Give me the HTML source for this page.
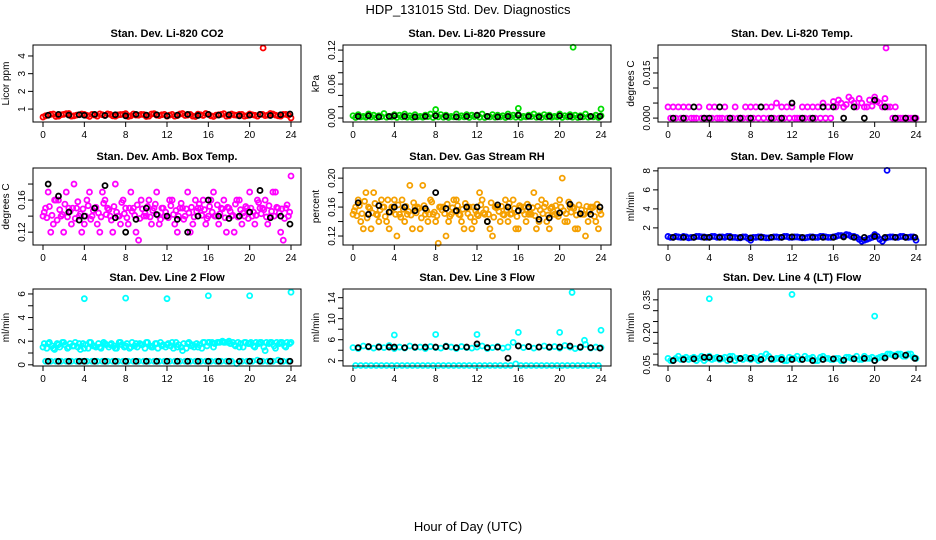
<!DOCTYPE html>
<html><head><meta charset="utf-8"><style>
body{margin:0;background:#fff}
svg{display:block;font-family:"Liberation Sans",sans-serif}
</style></head><body>
<svg id="c" width="936" height="540" viewBox="0 0 936 540">
<text x="468" y="14" text-anchor="middle" font-size="13">HDP_131015  Std. Dev. Diagnostics</text>
<text x="468" y="531" text-anchor="middle" font-size="13">Hour of Day (UTC)</text>
</svg>
<script>
const hoursA=[0,0.5,1,1.5,2,2.5,3,3.5,4,4.5,5,5.5,6,6.5,7,7.5,8,8.5,9,9.5,10,10.5,11,11.5,12,12.5,13,13.5,14,14.5,15,15.5,16,16.5,17,17.5,18,18.5,19,19.5,20,20.5,21,21.5,22,22.5,23,23.5,24];
const hoursB=[0.25,0.75,1.25,1.75,2.25,2.75,3.25,3.75,4.25,4.75,5.25,5.75,6.25,6.75,7.25,7.75,8.25,8.75,9.25,9.75,10.25,10.75,11.25,11.75,12.25,12.75,13.25,13.75,14.25,14.75,15.25,15.75,16.25,16.75,17.25,17.75,18.25,18.75,19.25,19.75,20.25,20.75,21.25,21.75,22.25,22.75,23.25,23.75];
const hoursC=[0.12,0.37,0.62,0.87,1.12,1.37,1.62,1.87,2.12,2.37,2.62,2.87,3.12,3.37,3.62,3.87,4.12,4.37,4.62,4.87,5.12,5.37,5.62,5.87,6.12,6.37,6.62,6.87,7.12,7.37,7.62,7.87,8.12,8.37,8.62,8.87,9.12,9.37,9.62,9.87,10.12,10.37,10.62,10.87,11.12,11.37,11.62,11.87,12.12,12.37,12.62,12.87,13.12,13.37,13.62,13.87,14.12,14.37,14.62,14.87,15.12,15.37,15.62,15.87,16.12,16.37,16.62,16.87,17.12,17.37,17.62,17.87,18.12,18.37,18.62,18.87,19.12,19.37,19.62,19.87,20.12,20.37,20.62,20.87,21.12,21.37,21.62,21.87,22.12,22.37,22.62,22.87,23.12,23.37,23.62,23.87];
const hoursK=[0.5,1.5,2.5,3.5,4,5,6,7,8,9,10,11,12,13,14,15,16,17,18,19,20,21,22,23,23.9];
// Panel 1 CO2
const co2A=[0.55,0.65,0.72,0.6,0.7,0.75,0.62,0.68,0.7,0.58,0.66,0.73,0.64,0.7,0.6,0.69,0.74,0.62,0.66,0.7,0.58,0.72,0.65,0.68,0.6,0.7,0.63,0.75,0.66,0.6,0.71,0.64,0.7,0.58,0.68,0.74,0.62,0.67,0.7,0.6,0.72,0.65,0.7,0.63,0.75,0.66,0.6,0.7,0.5];
const co2B=[0.62,0.7,0.58,0.68,0.74,0.6,0.66,0.72,0.64,0.7,0.6,0.68,0.73,0.62,0.67,0.7,0.58,0.72,0.65,0.69,0.6,0.74,0.63,0.7,0.66,0.6,0.72,0.64,0.7,0.58,0.68,0.75,0.62,0.66,0.7,0.6,0.72,0.65,0.7,0.63,0.68,0.6,0.7,0.66,0.72,0.62,0.7,0.65];
const co2K=[0.65,0.7,0.66,0.68,0.65,0.7,0.64,0.68,0.62,0.7,0.66,0.68,0.62,0.66,0.7,0.64,0.7,0.66,0.68,0.62,0.66,0.7,0.64,0.68,0.72];
const co2Oh=[21.3]; const co2Ov=[4.45];
// Panel 2 pressure
const prA=[0.004,0.006,0.003,0.007,0.005,0.004,0.008,0.003,0.006,0.005,0.007,0.004,0.006,0.003,0.005,0.007,0.004,0.006,0.005,0.003,0.007,0.004,0.006,0.005,0.004,0.007,0.003,0.006,0.005,0.004,0.007,0.005,0.006,0.003,0.005,0.007,0.004,0.006,0.005,0.003,0.007,0.004,0.006,0.005,0.004,0.007,0.003,0.005,0.004];
const prB=[0.001,0.002,0.0015,0.002,0.001,0.0025,0.0015,0.002,0.001,0.002,0.0015,0.001,0.002,0.0015,0.0025,0.001,0.002,0.0015,0.001,0.002,0.0015,0.002,0.001,0.0025,0.0015,0.001,0.002,0.0015,0.002,0.001,0.002,0.0015,0.001,0.002,0.0025,0.0015,0.001,0.002,0.0015,0.002,0.001,0.002,0.0015,0.001,0.002,0.0015,0.002,0.001];
const prK=[0.003,0.004,0.002,0.003,0.004,0.003,0.002,0.003,0.004,0.003,0.002,0.003,0.005,0.003,0.002,0.003,0.005,0.003,0.002,0.003,0.004,0.003,0.002,0.003,0.003];
const prOh=[8,16,21.3,24]; const prOv=[0.015,0.017,0.125,0.016];
// Panel 3 Li-820 temp
const tpA=[0.0037,0.0037,0.0037,0.0037,0.0037,0,0.0037,0,0.0037,0.0037,0,0.0037,0,0.0037,0,0.0037,0.0037,0.0037,0.0037,0.0037,0.0037,0.005,0.0037,0.0037,0.0037,0,0.0037,0.0037,0.0037,0.0037,0.005,0.0037,0.0055,0.006,0.0037,0.007,0.005,0.0065,0.0037,0.006,0.007,0.005,0.0065,0.0037,0.0037,0,0,0,0];
const tpB=[0,0,0,0,0,0,0,0,0,0,0,0,0,0,0,0,0,0,0,0,0,0,0,0,0,0,0,0,0,0,0,0,0.0037,0.005,0.0045,0.006,0.0037,0.005,0.0037,0.004,0.0055,0.0037,0.0037,0,0,0,0,0];
const tpK=[0,0,0.0037,0,0,0.0037,0,0,0,0.0037,0,0,0.005,0,0,0.0037,0.0037,0,0.0037,0,0.006,0.0037,0,0,0];
const tpOh=[21.1]; const tpOv=[0.0233];
// Panel 4 amb box temp
const abA=[0.14,0.17,0.13,0.16,0.12,0.15,0.18,0.14,0.13,0.17,0.15,0.12,0.16,0.14,0.18,0.13,0.15,0.17,0.12,0.16,0.14,0.13,0.17,0.15,0.14,0.16,0.12,0.15,0.17,0.13,0.15,0.16,0.14,0.17,0.13,0.16,0.15,0.12,0.16,0.14,0.17,0.13,0.15,0.16,0.14,0.17,0.12,0.15,0.19];
const abB=[0.15,0.12,0.16,0.14,0.17,0.13,0.15,0.12,0.16,0.14,0.13,0.17,0.15,0.12,0.14,0.16,0.13,0.15,0.11,0.14,0.16,0.15,0.13,0.14,0.16,0.13,0.15,0.14,0.12,0.16,0.15,0.13,0.16,0.14,0.15,0.12,0.14,0.16,0.13,0.15,0.14,0.16,0.15,0.13,0.17,0.15,0.11,0.14];
const abC=[0.145,0.138,0.152,0.141,0.16,0.135,0.148,0.142,0.155,0.139,0.146,0.15,0.137,0.158,0.143,0.149,0.14,0.153,0.136,0.147,0.151,0.144,0.139,0.156,0.142,0.148,0.135,0.152,0.145,0.14,0.157,0.143,0.138,0.15,0.146,0.141,0.154,0.137,0.149,0.144,0.152,0.139,0.147,0.155,0.141,0.136,0.15,0.145,0.138,0.153,0.142,0.147,0.14,0.156,0.136,0.149,0.144,0.151,0.139,0.146,0.155,0.141,0.148,0.137,0.152,0.145,0.14,0.154,0.143,0.149,0.138,0.151,0.146,0.141,0.155,0.139,0.148,0.144,0.152,0.137,0.15,0.145,0.141,0.157,0.143,0.148,0.139,0.153,0.146,0.14,0.151,0.144,0.149,0.137,0.154,0.145];
const abK=[0.18,0.165,0.145,0.135,0.14,0.15,0.178,0.138,0.12,0.136,0.15,0.142,0.14,0.136,0.12,0.14,0.16,0.14,0.137,0.14,0.145,0.172,0.138,0.14,0.13];
// Panel 5 gas stream RH
const rhA=[0.15,0.17,0.13,0.16,0.18,0.14,0.16,0.13,0.17,0.15,0.14,0.19,0.16,0.13,0.15,0.17,0.14,0.16,0.12,0.15,0.17,0.14,0.16,0.13,0.15,0.17,0.14,0.12,0.16,0.15,0.14,0.17,0.13,0.16,0.15,0.18,0.14,0.16,0.13,0.15,0.17,0.14,0.16,0.13,0.15,0.12,0.16,0.14,0.15];
const rhB=[0.16,0.14,0.18,0.13,0.15,0.17,0.14,0.16,0.12,0.17,0.15,0.13,0.16,0.19,0.14,0.15,0.11,0.16,0.14,0.17,0.15,0.13,0.16,0.14,0.18,0.15,0.13,0.16,0.14,0.17,0.15,0.13,0.16,0.14,0.15,0.13,0.17,0.14,0.16,0.15,0.2,0.14,0.16,0.13,0.15,0.14,0.16,0.13];
const rhC=[0.155,0.148,0.162,0.151,0.168,0.145,0.158,0.152,0.165,0.149,0.156,0.16,0.147,0.17,0.153,0.159,0.15,0.163,0.146,0.157,0.161,0.154,0.149,0.166,0.152,0.158,0.145,0.162,0.155,0.15,0.167,0.153,0.148,0.16,0.156,0.151,0.164,0.147,0.159,0.154,0.162,0.149,0.157,0.165,0.151,0.146,0.16,0.155,0.148,0.163,0.152,0.157,0.15,0.166,0.146,0.159,0.154,0.161,0.149,0.156,0.165,0.151,0.158,0.147,0.162,0.155,0.15,0.164,0.153,0.159,0.148,0.161,0.156,0.151,0.165,0.149,0.158,0.154,0.162,0.147,0.16,0.155,0.151,0.167,0.153,0.158,0.149,0.163,0.156,0.15,0.161,0.154,0.159,0.147,0.164,0.155];
const rhK=[0.166,0.15,0.162,0.153,0.16,0.16,0.155,0.158,0.18,0.158,0.155,0.16,0.16,0.14,0.163,0.16,0.155,0.16,0.143,0.145,0.152,0.164,0.151,0.15,0.16];
// Panel 6 sample flow
const sfA=[1.1,1.0,1.05,1.1,0.95,1.0,1.1,1.05,1.0,1.1,1.05,1.0,1.1,1.0,0.95,1.05,0.7,1.0,1.05,0.95,1.0,1.05,1.0,1.1,1.0,1.05,0.95,1.0,1.05,1.0,1.1,1.0,1.05,1.2,1.15,1.25,1.1,0.8,0.7,0.9,1.3,0.8,0.9,1.05,1.0,1.1,1.0,1.05,0.7];
const sfB=[1.0,1.1,1.0,1.05,1.0,1.1,1.05,1.0,1.1,1.0,1.05,1.1,1.0,0.95,1.05,0.9,1.0,1.05,1.0,0.95,1.05,1.0,1.1,1.0,1.05,1.0,0.95,1.05,1.0,1.1,1.05,1.0,1.1,1.2,1.3,1.1,1.0,0.6,0.8,1.0,1.1,0.6,1.0,1.05,1.0,1.1,1.0,1.05];
const sfK=[1.0,1.0,1.0,1.0,1.0,1.0,1.0,1.0,0.95,1.0,1.0,1.0,1.05,1.0,1.0,1.0,1.0,1.05,1.0,1.0,1.1,1.0,1.0,1.0,1.0];
const sfOh=[21.2]; const sfOv=[8.05];
// Panel 7 line 2 flow
const l2A=[1.5,1.8,1.4,1.7,1.9,1.5,1.6,1.8,1.4,1.9,1.6,1.5,1.8,1.7,1.4,1.9,1.6,1.5,1.8,1.7,1.9,1.5,1.8,1.6,1.7,1.9,1.5,1.2,1.8,1.7,1.5,1.9,1.9,1.5,1.9,1.9,2.0,1.7,1.5,1.9,1.8,1.5,1.9,1.2,1.9,1.4,1.9,1.5,1.9];
const l2B=[0.3,0.3,0.3,0.3,0.3,0.3,0.3,0.3,0.3,0.3,0.3,0.3,0.3,0.3,0.3,0.3,0.3,0.3,0.3,0.3,0.3,0.3,0.3,0.3,0.3,0.3,0.3,0.3,0.3,0.3,0.3,0.3,0.3,0.3,0.3,0.3,0.3,0.1,0.3,0.3,0.3,0.4,0.3,0.3,0.3,0.4,0.3,0.3];
const l2C=[1.8,1.4,1.9,1.6,1.3,1.8,1.5,1.9,1.7,1.4,1.8,1.6,1.9,1.5,1.3,1.8,1.7,1.4,1.9,1.6,1.5,1.8,1.4,1.9,1.7,1.5,1.8,1.6,1.4,1.9,1.7,1.5,1.8,1.4,1.9,1.6,1.5,1.8,1.7,1.4,1.9,1.6,1.5,1.8,1.4,1.9,1.7,1.5,1.8,1.6,1.4,1.9,1.7,1.5,1.8,1.4,1.9,1.6,1.5,1.8,1.7,1.4,1.9,1.6,1.9,1.9,1.8,1.9,1.9,2.0,1.9,1.9,1.8,1.9,1.6,1.9,1.8,1.5,1.9,1.8,1.9,1.6,1.9,1.8,1.9,1.5,1.9,1.8,1.9,1.6,1.9,1.8,1.9,1.6,1.9,1.8];
const l2K=[0.3,0.3,0.3,0.3,0.3,0.3,0.3,0.3,0.3,0.3,0.3,0.3,0.3,0.3,0.3,0.3,0.3,0.3,0.3,0.3,0.3,0.3,0.3,0.3,0.3];
const l2Oh=[4,8,12,16,20,24]; const l2Ov=[5.6,5.65,5.6,5.85,5.85,6.15];
// Panel 8 line 3 flow
const l3A=[4.5,4.3,4.8,4.6,4.4,4.7,4.5,4.9,4.3,4.6,4.4,4.8,4.5,4.6,4.3,4.7,4.5,4.4,4.8,4.6,4.3,4.7,4.5,4.4,4.6,4.8,4.3,4.5,4.7,4.4,4.6,5.5,4.8,4.5,4.7,4.4,4.6,4.8,4.5,4.7,4.4,4.9,4.6,4.3,4.5,5.1,4.4,4.6,4.5];
const l3B=[1.1,1.1,1.1,1.1,1.1,1.1,1.1,1.1,1.1,1.1,1.1,1.1,1.1,1.1,1.1,1.1,1.1,1.1,1.1,1.1,1.1,1.1,1.1,1.1,1.1,1.1,1.1,1.1,1.1,1.1,1.1,1.4,1.1,1.1,1.1,1.1,1.1,1.1,1.1,1.1,1.1,1.1,1.1,1.1,1.1,1.1,1.1,1.1];
const l3K=[4.5,4.7,4.6,4.6,4.6,4.5,4.6,4.6,4.6,4.7,4.5,4.6,5.2,4.5,4.6,2.5,4.8,4.7,4.6,4.6,4.6,4.8,4.6,4.5,4.4];
const l3Oh=[4,8,12,16,20,21.2,22.4,24]; const l3Ov=[6.9,7.0,7.0,7.4,7.4,15.0,5.9,7.8];
// Panel 9 line 4 flow
const l4A=[0.08,0.07,0.09,0.08,0.075,0.085,0.08,0.07,0.09,0.08,0.075,0.085,0.09,0.07,0.08,0.085,0.075,0.08,0.09,0.1,0.075,0.08,0.085,0.07,0.08,0.09,0.075,0.08,0.085,0.07,0.09,0.08,0.075,0.08,0.07,0.085,0.08,0.075,0.09,0.08,0.07,0.085,0.09,0.1,0.095,0.1,0.09,0.1,0.08];
const l4B=[0.07,0.08,0.075,0.085,0.08,0.07,0.09,0.08,0.075,0.085,0.08,0.07,0.09,0.08,0.075,0.08,0.085,0.07,0.08,0.09,0.075,0.08,0.07,0.085,0.08,0.075,0.09,0.08,0.07,0.085,0.08,0.075,0.08,0.07,0.085,0.08,0.09,0.075,0.08,0.085,0.08,0.09,0.1,0.095,0.1,0.09,0.1,0.085];
const l4K=[0.07,0.075,0.078,0.085,0.085,0.08,0.075,0.08,0.08,0.075,0.078,0.075,0.075,0.075,0.07,0.075,0.078,0.072,0.078,0.08,0.07,0.082,0.09,0.095,0.08];
const l4Oh=[4,12,20]; const l4Ov=[0.355,0.375,0.275];

const panels=[
 {t:"Stan. Dev. Li-820 CO2",yl:"Licor ppm",col:0,row:0,d:[0.27,4.62],ticks:[1,2,3,4],labs:["1","2","3","4"],c:"#ff0000",A:co2A,B:co2B,C:[],K:co2K,Oh:co2Oh,Ov:co2Ov},
 {t:"Stan. Dev. Li-820 Pressure",yl:"kPa",col:1,row:0,d:[-0.007,0.129],ticks:[0,0.02,0.04,0.06,0.08,0.1,0.12],labs:["0.00","","","0.06","","","0.12"],c:"#00dd00",A:prA,B:prB,C:[],K:prK,Oh:prOh,Ov:prOv},
 {t:"Stan. Dev. Li-820 Temp.",yl:"degrees C",col:2,row:0,d:[-0.0013,0.0243],ticks:[0,0.005,0.01,0.015,0.02],labs:["0.000","","","0.015",""],c:"#ff00ff",A:tpA,B:tpB,C:[],K:tpK,Oh:tpOh,Ov:tpOv},
 {t:"Stan. Dev. Amb. Box Temp.",yl:"degrees C",col:0,row:1,d:[0.104,0.2],ticks:[0.12,0.14,0.16,0.18],labs:["0.12","","0.16",""],c:"#ff00ff",A:abA,B:abB,C:abC,K:abK,Oh:[],Ov:[]},
 {t:"Stan. Dev. Gas Stream RH",yl:"percent",col:1,row:1,d:[0.1076,0.214],ticks:[0.12,0.14,0.16,0.18,0.2],labs:["0.12","","0.16","","0.20"],c:"#f5a000",A:rhA,B:rhB,C:rhC,K:rhK,Oh:[],Ov:[]},
 {t:"Stan. Dev. Sample Flow",yl:"ml/min",col:2,row:1,d:[0.2,8.3],ticks:[2,4,6,8],labs:["2","4","6","8"],c:"#0000ff",A:sfA,B:sfB,C:[],K:sfK,Oh:sfOh,Ov:sfOv},
 {t:"Stan. Dev. Line 2 Flow",yl:"ml/min",col:0,row:2,d:[-0.1,6.42],ticks:[0,1,2,3,4,5,6],labs:["0","","2","","4","","6"],c:"#00ffff",A:l2A,B:l2B,C:l2C,K:l2K,Oh:l2Oh,Ov:l2Ov},
 {t:"Stan. Dev. Line 3 Flow",yl:"ml/min",col:1,row:2,d:[1.0,15.65],ticks:[2,4,6,8,10,12,14],labs:["2","","6","","10","","14"],c:"#00ffff",A:l3A,B:l3B,C:[],K:l3K,Oh:l3Oh,Ov:l3Ov},
 {t:"Stan. Dev. Line 4 (LT) Flow",yl:"ml/min",col:2,row:2,d:[0.045,0.4],ticks:[0.05,0.1,0.15,0.2,0.25,0.3,0.35],labs:["0.05","","","0.20","","","0.35"],c:"#00ffff",A:l4A,B:l4B,C:[],K:l4K,Oh:l4Oh,Ov:l4Ov}
];
const xTicks=[0,4,8,12,16,20,24];
const boxL=[33,343,658], boxTop=[45,168,289], W=268, H=77;
const NS="http://www.w3.org/2000/svg", svg=document.getElementById('c');
function mk(tag,attrs,parent){const e=document.createElementNS(NS,tag);for(const k in attrs)e.setAttribute(k,attrs[k]);(parent||svg).appendChild(e);return e;}
panels.forEach((p,pi)=>{
 const L=boxL[p.col],T=boxTop[p.row];
 const g=mk('g',{});
 
 
 const xs=h=>L+10+h/24*(W-20);
 const ys=v=>T+H-(v-p.d[0])/(p.d[1]-p.d[0])*H;
 const tt=mk('text',{x:L+W/2,y:T-8,'text-anchor':'middle','font-size':11,'font-weight':'bold'},g);tt.textContent=p.t;
 
 
 const yl=mk('text',{transform:`translate(${L-24},${T+H/2}) rotate(-90)`,'text-anchor':'middle','font-size':10},g);yl.textContent=p.yl;
 
 
 xTicks.forEach(h=>{const x=xs(h);mk('line',{x1:x,x2:x,y1:T+H,y2:T+H+5,stroke:'#000'},g);
  const tx=mk('text',{x:x,y:T+H+16,'text-anchor':'middle','font-size':10},g);tx.textContent=h;
  
  });
 p.ticks.forEach((v,i)=>{const y=ys(v);mk('line',{x1:L-5,x2:L,y1:y,y2:y,stroke:'#000'},g);
  if(p.labs[i]){const ty=mk('text',{transform:`translate(${L-8},${y}) rotate(-90)`,'text-anchor':'middle','font-size':10},g);ty.textContent=p.labs[i];
  
  }});
 const pts=mk('g',{fill:'none','stroke-width':1.8},g);
 
 
 const dot=(h,v,c)=>{const e=mk('circle',{cx:xs(h),cy:ys(v),r:2.5,stroke:c},pts);};
 p.A.forEach((v,i)=>dot(hoursA[i],v,p.c));
 p.B.forEach((v,i)=>dot(hoursB[i],v,p.c));
 p.C.forEach((v,i)=>dot(hoursC[i],v,p.c));
 p.Oh.forEach((h,i)=>dot(h,p.Ov[i],p.c));
 p.K.forEach((v,i)=>dot(hoursK[i],v,'#000'));
 const bx=mk('rect',{x:L,y:T,width:W,height:H,fill:'none',stroke:'#000'},g);
 
 
});
</script>
</body></html>
